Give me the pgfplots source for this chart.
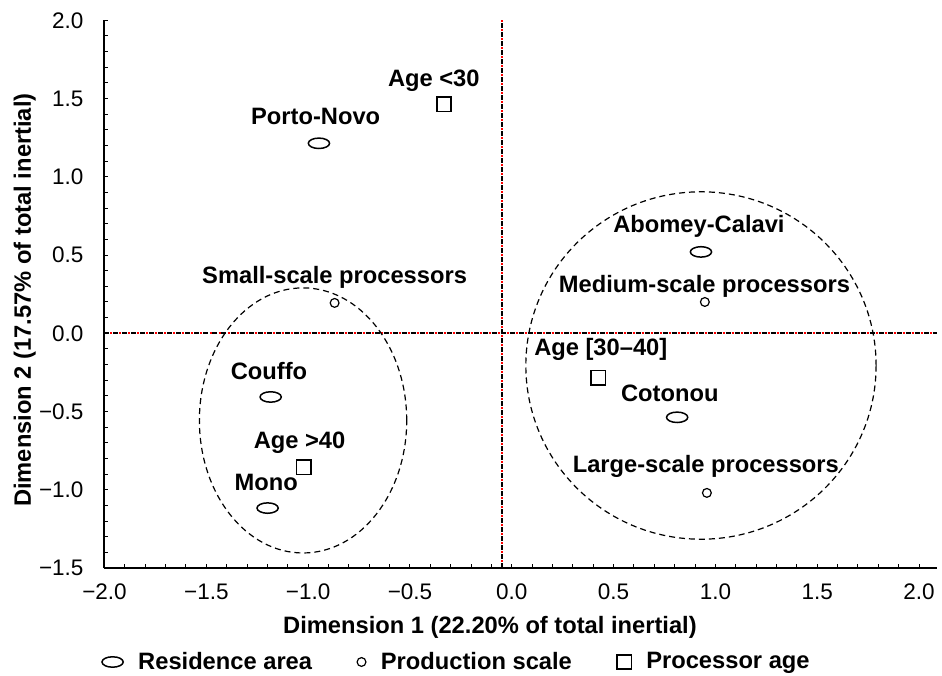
\documentclass[border=0pt]{standalone}
\usepackage{fontspec}
\setmainfont{Liberation Sans}
\usepackage{pgfplots}
\pgfplotsset{compat=1.18}
\pgfplotsset{mk/.style={only marks, legend image code/.code={\draw[##1] plot coordinates {(0pt,0pt)};}}}
\newcommand{\lbf}{\fontsize{11.85}{14}\selectfont\bfseries}
\begin{document}
\begin{tikzpicture}
\begin{axis}[
  name=ax,
  scale only axis,
  width=416.25pt, height=273.85pt,
  xmin=-2.0, xmax=2.088, ymin=-1.5, ymax=2.0,
  axis x line*=bottom, axis y line*=left,
  axis line style={line width=1pt, black},
  tick align=inside,
  major tick length=2pt, minor tick length=2pt,
  every tick/.style={line width=0.5pt, black},
  xtick={-2,-1.5,-1,-0.5,0,0.5,1,1.5,2},
  xticklabels={−2.0,−1.5,−1.0,−0.5,0.0,0.5,1.0,1.5,2.0},
  ytick={-1.5,-1,-0.5,0,0.5,1,1.5,2},
  yticklabels={−1.5,−1.0,−0.5,0.0,0.5,1.0,1.5,2.0},
  minor tick num=4,
  ticklabel style={font=\fontsize{11.25}{13}\selectfont},
  xticklabel style={yshift=-4.5pt},
  yticklabel style={xshift=-7pt},
  xlabel={Dimension 1 (22.20\% of total inertial)},
  ylabel={Dimension 2 (17.57\% of total inertial)},
  label style={font=\lbf},
  xlabel style={at={(axis description cs:0.463,-0.1187)}, anchor=base},
  ylabel style={at={(axis description cs:-0.0883,0.489)}, anchor=base},
  legend style={at={(axis description cs:-0.003,-0.1716)}, anchor=west,
    draw=none, fill=none, inner sep=0pt, outer sep=0pt,
    font=\lbf, legend columns=-1,
    /tikz/every odd column/.append style={column sep=5.5pt},
    /tikz/every even column/.append style={column sep=20.5pt}},
  legend cell align=left,
]
% reference lines
\addplot[forget plot, black, line width=0.8pt, dash pattern=on 2.5pt off 2pt] coordinates {(-2,0) (2.088,0)};
\addplot[forget plot, red, line width=0.8pt, dash pattern=on 1pt off 3.5pt, dash phase=1.5pt] coordinates {(-2,0) (2.088,0)};
\addplot[forget plot, black, line width=0.8pt, dash pattern=on 2.5pt off 2pt] coordinates {(-0.049,-1.5) (-0.049,2.0)};
\addplot[forget plot, red, line width=0.8pt, dash pattern=on 1pt off 3.5pt, dash phase=1.5pt] coordinates {(-0.049,-1.5) (-0.049,2.0)};
% grouping ellipses
\draw[black, line width=0.6pt, dash pattern=on 3pt off 2pt] (axis cs:-1.025,-0.557) ellipse [x radius=0.509, y radius=0.847];
\draw[black, line width=0.6pt, dash pattern=on 3pt off 2pt] (axis cs:0.929,-0.206) ellipse [x radius=0.860, y radius=1.110];
% residence area
\addplot[mk, black, mark=o, mark size=2.6pt, mark options={xscale=2.04, line width=0.75pt}]
  coordinates {(-0.947,1.214) (-1.184,-0.407) (-1.199,-1.117) (0.929,0.520) (0.812,-0.537)};
\addlegendentry{Residence area}
% production scale
\addplot[mk, black, mark=o, mark size=2.2pt, mark options={line width=0.6pt}]
  coordinates {(-0.870,0.194) (0.948,0.200) (0.958,-1.020)};
\addlegendentry{Production scale}
% processor age
\addplot[mk, black, mark=square, mark size=3.6pt, mark options={line width=0.75pt}]
  coordinates {(-0.333,1.463) (-1.022,-0.855) (0.424,-0.284)};
\addlegendentry{Processor age}
% point labels
\node[font=\lbf, anchor=base] at (axis cs:-0.383,1.574) {Age <30};
\node[font=\lbf, anchor=base] at (axis cs:-0.963,1.331) {Porto-Novo};
\node[font=\lbf, anchor=base] at (axis cs:-0.870,0.321) {Small-scale processors};
\node[font=\lbf, anchor=base] at (axis cs:-1.192,-0.298) {Couffo};
\node[font=\lbf, anchor=base] at (axis cs:-1.042,-0.739) {Age >40};
\node[font=\lbf, anchor=base] at (axis cs:-1.206,-1.006) {Mono};
\node[font=\lbf, anchor=base] at (axis cs:0.919,0.641) {Abomey-Calavi};
\node[font=\lbf, anchor=base] at (axis cs:0.946,0.258) {Medium-scale processors};
\node[font=\lbf, anchor=base] at (axis cs:0.437,-0.139) {Age [30–40]};
\node[font=\lbf, anchor=base] at (axis cs:0.776,-0.439) {Cotonou};
\node[font=\lbf, anchor=base] at (axis cs:0.953,-0.892) {Large-scale processors};
\end{axis}
\pgfresetboundingbox
\path ([shift={(-52.25pt,-53.5pt)}]ax.south west) rectangle ([shift={(2.5pt,10.15pt)}]ax.north east);
\end{tikzpicture}
\end{document}
